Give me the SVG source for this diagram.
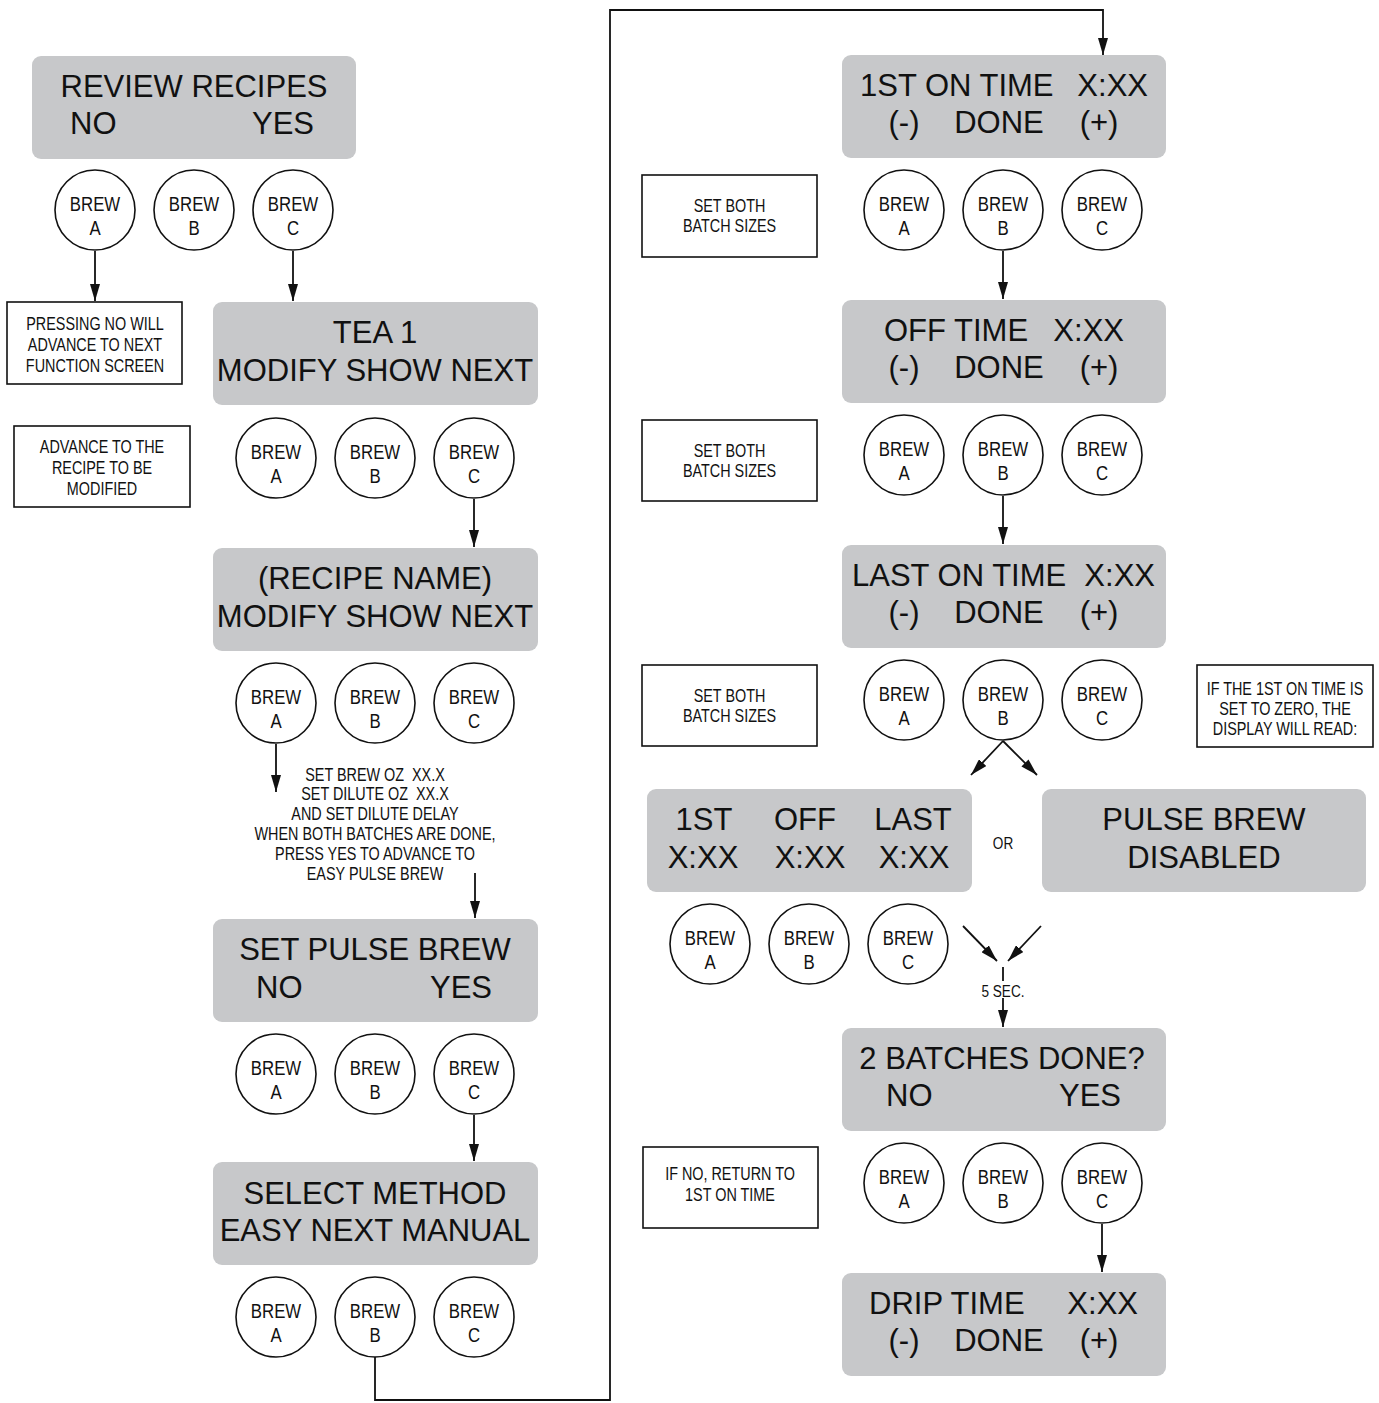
<svg xmlns="http://www.w3.org/2000/svg" width="1379" height="1403" viewBox="0 0 1379 1403">
<style>
.screen{fill:#c7c8ca}
.big{font-family:"Liberation Sans",Arial,sans-serif;font-size:31px;fill:#111}
.mid{text-anchor:middle}
.end{text-anchor:end}
.note{fill:#fff;stroke:#111;stroke-width:1.6}
.btn{fill:#fff;stroke:#111;stroke-width:1.6}
.sm{font-family:"Liberation Sans",Arial,sans-serif;font-size:18px;fill:#111;text-anchor:middle}
.bt{font-family:"Liberation Sans",Arial,sans-serif;font-size:21px;fill:#111;text-anchor:middle}
.ln{fill:none;stroke:#111;stroke-width:1.8}
</style>
<defs>
<marker id="ah" viewBox="0 0 17 10" markerWidth="17" markerHeight="10" markerUnits="userSpaceOnUse" refX="17" refY="5" orient="auto">
<path d="M0,0 L17,5 L0,10 z" fill="#111"/>
</marker>
<g id="btnA"><circle r="40" class="btn"/><g transform="scale(0.8,1)"><text class="bt" y="1">BREW</text><text class="bt" y="25">A</text></g></g>
<g id="btnB"><circle r="40" class="btn"/><g transform="scale(0.8,1)"><text class="bt" y="1">BREW</text><text class="bt" y="25">B</text></g></g>
<g id="btnC"><circle r="40" class="btn"/><g transform="scale(0.8,1)"><text class="bt" y="1">BREW</text><text class="bt" y="25">C</text></g></g>
</defs>
<rect width="1379" height="1403" fill="#fff"/>

<g id="connectors">
<line class="ln" x1="95" y1="251" x2="95" y2="301" marker-end="url(#ah)"/>
<line class="ln" x1="293" y1="251" x2="293" y2="301" marker-end="url(#ah)"/>
<line class="ln" x1="474" y1="499" x2="474" y2="547" marker-end="url(#ah)"/>
<line class="ln" x1="276" y1="744" x2="276" y2="792" marker-end="url(#ah)"/>
<line class="ln" x1="475" y1="873" x2="475" y2="918" marker-end="url(#ah)"/>
<line class="ln" x1="474" y1="1115" x2="474" y2="1161" marker-end="url(#ah)"/>
<polyline class="ln" points="375,1357 375,1400 610,1400 610,10 1103,10 1103,55" marker-end="url(#ah)"/>
<line class="ln" x1="1003" y1="251" x2="1003" y2="299" marker-end="url(#ah)"/>
<line class="ln" x1="1003" y1="496" x2="1003" y2="544" marker-end="url(#ah)"/>
<line class="ln" x1="1003" y1="741" x2="971" y2="775" marker-end="url(#ah)"/>
<line class="ln" x1="1003" y1="741" x2="1037" y2="775" marker-end="url(#ah)"/>
<line class="ln" x1="963" y1="926" x2="997" y2="961" marker-end="url(#ah)"/>
<line class="ln" x1="1041" y1="926" x2="1008" y2="961" marker-end="url(#ah)"/>
<line class="ln" x1="1003" y1="967" x2="1003" y2="981"/>
<line class="ln" x1="1003" y1="998" x2="1003" y2="1027" marker-end="url(#ah)"/>
<line class="ln" x1="1102" y1="1224" x2="1102" y2="1272" marker-end="url(#ah)"/>
</g>

<g id="review-recipes">
<rect class="screen" x="32" y="56" width="324" height="103" rx="9"/>
<text class="big mid" x="194" y="97">REVIEW RECIPES</text>
<text class="big" x="70" y="134">NO</text>
<text class="big end" x="314" y="134">YES</text>
</g>
<use href="#btnA" x="95" y="210"/>
<use href="#btnB" x="194" y="210"/>
<use href="#btnC" x="293" y="210"/>

<g id="note-pressing">
<rect class="note" x="7" y="302" width="175" height="82"/>
<g transform="translate(95,0) scale(0.8,1)">
<text class="sm" y="330">PRESSING NO WILL</text>
<text class="sm" y="351">ADVANCE TO NEXT</text>
<text class="sm" y="372">FUNCTION SCREEN</text>
</g>
</g>
<g id="note-advance">
<rect class="note" x="14" y="426" width="176" height="81"/>
<g transform="translate(102,0) scale(0.8,1)">
<text class="sm" y="453">ADVANCE TO THE</text>
<text class="sm" y="474">RECIPE TO BE</text>
<text class="sm" y="495">MODIFIED</text>
</g>
</g>

<g id="tea1">
<rect class="screen" x="213" y="302" width="325" height="103" rx="9"/>
<text class="big mid" x="375" y="343">TEA 1</text>
<text class="big mid" x="375" y="381">MODIFY SHOW NEXT</text>
</g>
<use href="#btnA" x="276" y="458"/>
<use href="#btnB" x="375" y="458"/>
<use href="#btnC" x="474" y="458"/>

<g id="recipe-name">
<rect class="screen" x="213" y="548" width="325" height="103" rx="9"/>
<text class="big mid" x="375" y="589">(RECIPE NAME)</text>
<text class="big mid" x="375" y="627">MODIFY SHOW NEXT</text>
</g>
<use href="#btnA" x="276" y="703"/>
<use href="#btnB" x="375" y="703"/>
<use href="#btnC" x="474" y="703"/>

<g id="set-brew-text" transform="translate(375,0) scale(0.8,1)">
<text class="sm" y="781">SET BREW OZ&#160; XX.X</text>
<text class="sm" y="800">SET DILUTE OZ&#160; XX.X</text>
<text class="sm" y="820">AND SET DILUTE DELAY</text>
<text class="sm" y="840">WHEN BOTH BATCHES ARE DONE,</text>
<text class="sm" y="860">PRESS YES TO ADVANCE TO</text>
<text class="sm" y="880">EASY PULSE BREW</text>
</g>

<g id="set-pulse-brew">
<rect class="screen" x="213" y="919" width="325" height="103" rx="9"/>
<text class="big mid" x="375" y="960">SET PULSE BREW</text>
<text class="big" x="256" y="998">NO</text>
<text class="big end" x="492" y="998">YES</text>
</g>
<use href="#btnA" x="276" y="1074"/>
<use href="#btnB" x="375" y="1074"/>
<use href="#btnC" x="474" y="1074"/>

<g id="select-method">
<rect class="screen" x="213" y="1162" width="325" height="103" rx="9"/>
<text class="big mid" x="375" y="1204">SELECT METHOD</text>
<text class="big mid" x="375" y="1241">EASY NEXT MANUAL</text>
</g>
<use href="#btnA" x="276" y="1317"/>
<use href="#btnB" x="375" y="1317"/>
<use href="#btnC" x="474" y="1317"/>

<g id="first-on-time">
<rect class="screen" x="842" y="55" width="324" height="103" rx="9"/>
<text class="big" x="860" y="96">1ST ON TIME</text>
<text class="big end" x="1148" y="96">X:XX</text>
<text class="big mid" x="904" y="133">(-)</text>
<text class="big mid" x="999" y="133">DONE</text>
<text class="big mid" x="1099" y="133">(+)</text>
</g>
<g id="note-batch1">
<rect class="note" x="642" y="175" width="175" height="82"/>
<g transform="translate(729.5,0) scale(0.8,1)">
<text class="sm" y="212">SET BOTH</text>
<text class="sm" y="232">BATCH SIZES</text>
</g>
</g>
<use href="#btnA" x="904" y="210"/>
<use href="#btnB" x="1003" y="210"/>
<use href="#btnC" x="1102" y="210"/>

<g id="off-time">
<rect class="screen" x="842" y="300" width="324" height="103" rx="9"/>
<text class="big" x="884" y="341">OFF TIME</text>
<text class="big end" x="1124" y="341">X:XX</text>
<text class="big mid" x="904" y="378">(-)</text>
<text class="big mid" x="999" y="378">DONE</text>
<text class="big mid" x="1099" y="378">(+)</text>
</g>
<g id="note-batch2">
<rect class="note" x="642" y="420" width="175" height="81"/>
<g transform="translate(729.5,0) scale(0.8,1)">
<text class="sm" y="457">SET BOTH</text>
<text class="sm" y="477">BATCH SIZES</text>
</g>
</g>
<use href="#btnA" x="904" y="455"/>
<use href="#btnB" x="1003" y="455"/>
<use href="#btnC" x="1102" y="455"/>

<g id="last-on-time">
<rect class="screen" x="842" y="545" width="324" height="103" rx="9"/>
<text class="big" x="852" y="586">LAST ON TIME</text>
<text class="big end" x="1155" y="586">X:XX</text>
<text class="big mid" x="904" y="623">(-)</text>
<text class="big mid" x="999" y="623">DONE</text>
<text class="big mid" x="1099" y="623">(+)</text>
</g>
<g id="note-batch3">
<rect class="note" x="642" y="665" width="175" height="81"/>
<g transform="translate(729.5,0) scale(0.8,1)">
<text class="sm" y="702">SET BOTH</text>
<text class="sm" y="722">BATCH SIZES</text>
</g>
</g>
<use href="#btnA" x="904" y="700"/>
<use href="#btnB" x="1003" y="700"/>
<use href="#btnC" x="1102" y="700"/>

<g id="note-zero">
<rect class="note" x="1197" y="665" width="176" height="82"/>
<g transform="translate(1285,0) scale(0.8,1)">
<text class="sm" y="695">IF THE 1ST ON TIME IS</text>
<text class="sm" y="715">SET TO ZERO, THE</text>
<text class="sm" y="735">DISPLAY WILL READ:</text>
</g>
</g>

<g id="summary">
<rect class="screen" x="647" y="789" width="325" height="103" rx="9"/>
<text class="big mid" x="704" y="830">1ST</text>
<text class="big mid" x="805" y="830">OFF</text>
<text class="big mid" x="913" y="830">LAST</text>
<text class="big mid" x="703" y="868">X:XX</text>
<text class="big mid" x="810" y="868">X:XX</text>
<text class="big mid" x="914" y="868">X:XX</text>
</g>
<g id="or-label" transform="translate(1003,0) scale(0.8,1)">
<text class="sm" y="849" style="font-size:17px">OR</text>
</g>
<g id="pulse-disabled">
<rect class="screen" x="1042" y="789" width="324" height="103" rx="9"/>
<text class="big mid" x="1204" y="830">PULSE BREW</text>
<text class="big mid" x="1204" y="868">DISABLED</text>
</g>
<use href="#btnA" x="710" y="944"/>
<use href="#btnB" x="809" y="944"/>
<use href="#btnC" x="908" y="944"/>
<g id="five-sec" transform="translate(1003,0) scale(0.8,1)">
<text class="sm" y="997" style="font-size:17px">5 SEC.</text>
</g>

<g id="batches-done">
<rect class="screen" x="842" y="1028" width="324" height="103" rx="9"/>
<text class="big mid" x="1002" y="1069">2 BATCHES DONE?</text>
<text class="big" x="886" y="1106">NO</text>
<text class="big end" x="1121" y="1106">YES</text>
</g>
<g id="note-return">
<rect class="note" x="643" y="1147" width="175" height="81"/>
<g transform="translate(730,0) scale(0.8,1)">
<text class="sm" y="1180">IF NO, RETURN TO</text>
<text class="sm" y="1201">1ST ON TIME</text>
</g>
</g>
<use href="#btnA" x="904" y="1183"/>
<use href="#btnB" x="1003" y="1183"/>
<use href="#btnC" x="1102" y="1183"/>

<g id="drip-time">
<rect class="screen" x="842" y="1273" width="324" height="103" rx="9"/>
<text class="big" x="869" y="1314">DRIP TIME</text>
<text class="big end" x="1138" y="1314">X:XX</text>
<text class="big mid" x="904" y="1351">(-)</text>
<text class="big mid" x="999" y="1351">DONE</text>
<text class="big mid" x="1099" y="1351">(+)</text>
</g>
</svg>
